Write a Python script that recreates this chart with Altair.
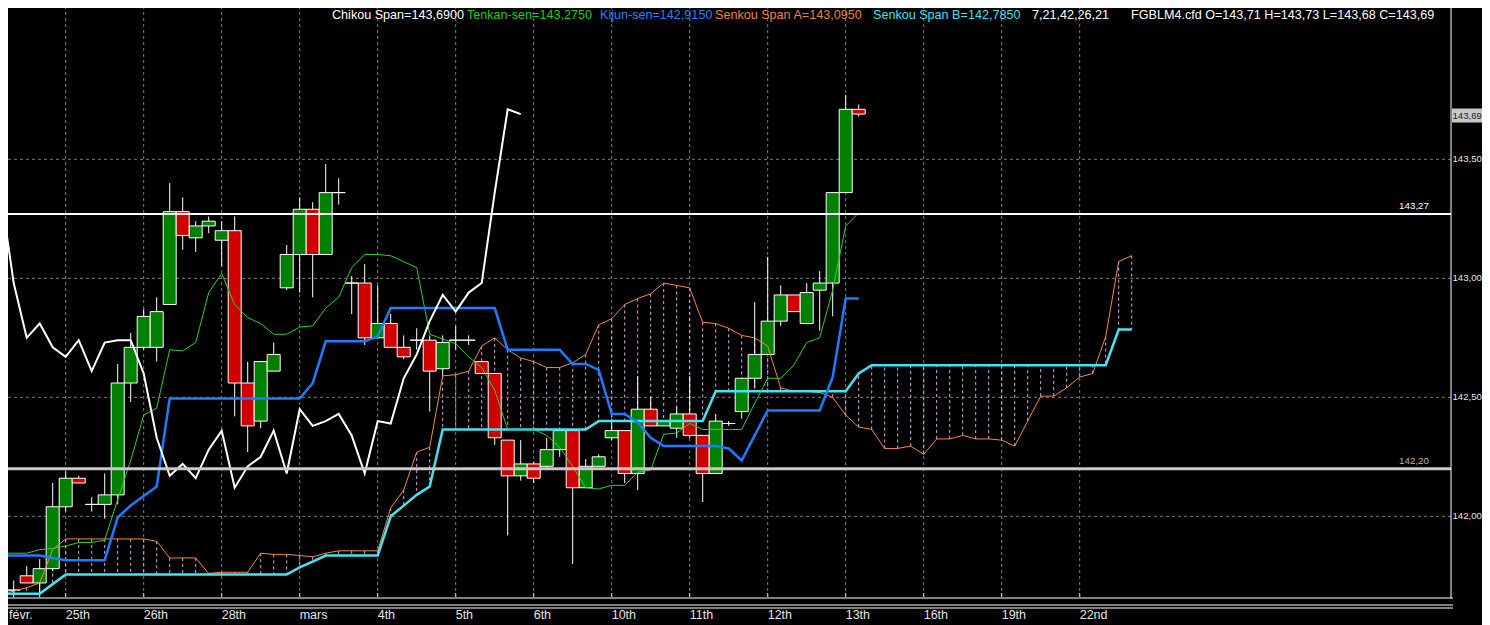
import altair as alt
import pandas as pd

# ---------------- data ----------------
opens = [141.75, 141.69, 141.75, 141.72, 141.78, 142.04, 142.16, 142.05, 142.05, 142.09,
         142.56, 142.71, 142.71, 142.89, 143.28, 143.17, 143.22, 143.16, 143.20, 142.56,
         142.40, 142.61, 142.96, 143.10, 143.29, 143.10, 143.36, 142.98, 142.98, 142.75,
         142.81, 142.71, 142.74, 142.74, 142.62, 142.74, 142.74, 142.65, 142.60, 142.32,
         142.17, 142.22, 142.21, 142.28, 142.36, 142.12, 142.21, 142.33, 142.36, 142.18,
         142.45, 142.38, 142.37, 142.43, 142.34, 142.18, 142.39, 142.44, 142.58, 142.68,
         142.82, 142.93, 142.81, 142.95, 142.98, 143.36, 143.71]
highs = [141.77, 141.73, 141.79, 141.82, 142.14, 142.19, 142.17, 142.08, 142.18, 142.64,
         142.77, 142.87, 142.92, 143.40, 143.34, 143.24, 143.26, 143.24, 143.26, 142.65,
         142.65, 142.73, 143.14, 143.34, 143.32, 143.48, 143.42, 143.01, 143.06, 142.97,
         142.85, 142.76, 142.79, 142.76, 142.76, 142.80, 142.76, 142.65, 142.60, 142.32,
         142.32, 142.23, 142.33, 142.36, 142.36, 142.24, 142.26, 142.41, 142.36, 142.59,
         142.50, 142.40, 142.46, 142.59, 142.34, 142.43, 142.40, 142.58, 142.90, 143.09,
         142.97, 142.93, 142.98, 143.03, 143.36, 143.77, 143.73]
lows = [141.68, 141.66, 141.72, 141.66, 141.77, 142.02, 142.14, 142.02, 141.99, 142.05,
        142.48, 142.70, 142.65, 142.89, 143.12, 143.11, 143.19, 143.05, 142.42, 142.27,
        142.37, 142.61, 142.95, 142.94, 142.92, 143.10, 143.31, 142.85, 142.72, 142.75,
        142.71, 142.66, 142.70, 142.44, 142.59, 142.70, 142.72, 142.60, 142.30, 141.92,
        142.15, 142.14, 142.20, 142.25, 141.80, 142.12, 142.21, 142.32, 142.14, 142.11,
        142.38, 142.38, 142.33, 142.33, 142.06, 142.18, 142.38, 142.41, 142.54, 142.68,
        142.80, 142.86, 142.81, 142.78, 142.84, 143.36, 143.68]
closes = [141.69, 141.69, 141.72, 141.78, 142.04, 142.16, 142.14, 142.05, 142.09, 142.56,
          142.71, 142.84, 142.86, 143.28, 143.18, 143.22, 143.24, 143.20, 142.56, 142.38,
          142.65, 142.68, 143.10, 143.29, 143.10, 143.36, 143.36, 142.98, 142.75, 142.81,
          142.71, 142.67, 142.74, 142.61, 142.73, 142.74, 142.74, 142.60, 142.33, 142.17,
          142.22, 142.16, 142.28, 142.36, 142.12, 142.21, 142.25, 142.36, 142.18, 142.45,
          142.38, 142.40, 142.43, 142.34, 142.18, 142.40, 142.39, 142.58, 142.68, 142.82,
          142.93, 142.86, 142.94, 142.98, 143.36, 143.71, 143.69]

tenkan = [141.845, 141.845, 141.845, 141.86, 141.865, 141.875, 141.89, 141.89, 141.90, 142.07,
          142.235, 142.425, 142.455, 142.70, 142.695, 142.73, 142.94, 143.02, 142.89, 142.835,
          142.81, 142.765, 142.765, 142.795, 142.80, 142.875, 142.92, 143.045, 143.10, 143.10,
          143.095, 143.07, 143.045, 142.765, 142.745, 142.725, 142.67, 142.625, 142.53, 142.365,
          142.365, 142.365, 142.34, 142.29, 142.21, 142.12, 142.115, 142.13, 142.13, 142.185,
          142.195, 142.345, 142.35, 142.39, 142.365, 142.365, 142.365, 142.365, 142.475, 142.58,
          142.58, 142.635, 142.73, 142.75, 142.95, 143.22, 143.275]
kijun = [141.835, 141.835, 141.835, 141.835, 141.825, 141.815, 141.815, 141.815, 141.815, 141.995,
         142.045, 142.085, 142.125, 142.495, 142.495, 142.495, 142.495, 142.495, 142.495, 142.495,
         142.495, 142.495, 142.495, 142.495, 142.56, 142.735, 142.735, 142.735, 142.735, 142.755,
         142.875, 142.875, 142.875, 142.875, 142.875, 142.875, 142.875, 142.875, 142.875, 142.70,
         142.70, 142.70, 142.70, 142.70, 142.64, 142.64, 142.615, 142.43, 142.43, 142.395,
         142.33, 142.295, 142.295, 142.295, 142.295, 142.295, 142.285, 142.235, 142.34, 142.445,
         142.445, 142.445, 142.445, 142.445, 142.585, 142.915, 142.915]
senkou_a = [141.675, 141.685, 141.70, 141.72, 141.86, 141.905, 141.905, 141.905, 141.905, 141.905,
            141.905, 141.905, 141.895, 141.825, 141.825, 141.825, 141.76, 141.765, 141.765, 141.765,
            141.845, 141.84, 141.84, 141.835, 141.83, 141.845, 141.855, 141.855, 141.855, 141.855,
            142.035, 142.11, 142.27, 142.29, 142.59, 142.595, 142.61, 142.715, 142.75, 142.70,
            142.665, 142.65, 142.625, 142.625, 142.645, 142.68, 142.805, 142.83, 142.89, 142.915,
            142.935, 142.98, 142.97, 142.96, 142.815, 142.81, 142.79, 142.76, 142.75, 142.715,
            142.54, 142.525, 142.525, 142.52, 142.50, 142.425, 142.375, 142.365, 142.285, 142.285,
            142.295, 142.26, 142.325, 142.325, 142.34, 142.325, 142.325, 142.32, 142.295, 142.40,
            142.505, 142.505, 142.54, 142.585, 142.60, 142.755, 143.07, 143.095]
senkou_b = [141.675, 141.675, 141.675, 141.675, 141.715, 141.755, 141.755, 141.755, 141.755, 141.755,
            141.755, 141.755, 141.755, 141.755, 141.755, 141.755, 141.755, 141.755, 141.755, 141.755,
            141.755, 141.755, 141.755, 141.785, 141.81, 141.835, 141.835, 141.835, 141.835, 141.835,
            142.00, 142.045, 142.09, 142.125, 142.365, 142.365, 142.365, 142.365, 142.365, 142.365,
            142.365, 142.365, 142.365, 142.365, 142.365, 142.365, 142.40, 142.40, 142.40, 142.40,
            142.40, 142.40, 142.40, 142.40, 142.40, 142.525, 142.525, 142.525, 142.525, 142.525,
            142.525, 142.525, 142.525, 142.525, 142.525, 142.525, 142.60, 142.635, 142.635, 142.635,
            142.635, 142.635, 142.635, 142.635, 142.635, 142.635, 142.635, 142.635, 142.635, 142.635,
            142.635, 142.635, 142.635, 142.635, 142.635, 142.635, 142.785, 142.785]
CHIKOU_SHIFT = 26

ref_levels = [143.27, 142.20]
price_ticks = [142.0, 142.5, 143.0, 143.5]
time_ticks = [-1, 5, 11, 17, 23, 29, 35, 41, 47, 53, 59, 65, 71, 77, 83]
time_labels = ["févr.", "25th", "26th", "28th", "mars", "4th", "5th", "6th", "10th", "11th",
               "12th", "13th", "16th", "19th", "22nd"]
symbol = "FGBLM4.cfd"
params_text = "7,21,42,26,21"

# ---------------- layout / style ----------------
W, H = 1451, 598
BAR_PX, X0_PX = 13.0, 0.7
PX_PER_PT, REF_P, REF_PX = 238.0, 143.5, 159.3
x_dom = [-X0_PX / BAR_PX, (W - X0_PX) / BAR_PX]
y_dom = [REF_P - (H - REF_PX) / PX_PER_PT, REF_P + REF_PX / PX_PER_PT]
xs = alt.Scale(domain=x_dom, nice=False, zero=False)
ys = alt.Scale(domain=y_dom, nice=False, zero=False)

FONT = "Liberation Sans"
GREEN_BODY, RED_BODY = "#008000", "#d00000"
C_TENKAN, C_KIJUN, C_SA, C_SB = "#2bd42b", "#1f7bff", "#f08a46", "#44e4f0"
C_HATCH, C_GRID, C_LABEL = "#e2a6ee", "#7c7c7c", "#e6e6e6"


def fmt(v, d):
    return f"{v:.{d}f}".replace(".", ",")


n = len(closes)
cdf = pd.DataFrame({"i": list(range(n)), "o": opens, "h": highs, "l": lows, "c": closes})
cdf["dir"] = ["up" if c >= o else "down" for o, c in zip(opens, closes)]

# ---- grid + axis labels, drawn from the tick lists through the shared scales ----
xt = pd.DataFrame({"t": time_ticks, "lab": time_labels})
xt_in = xt[xt["t"] >= 0]
xt_out = xt[xt["t"] < 0]
yt = pd.DataFrame({"p": price_ticks, "lab": [fmt(p, 2) for p in price_ticks]})

vgrid = alt.Chart(xt).mark_rule(color=C_GRID, strokeDash=[3, 3], strokeWidth=1, clip=True).encode(
    x=alt.X("t:Q", scale=xs, axis=None))
hgrid = alt.Chart(yt).mark_rule(color=C_GRID, strokeDash=[3, 3], strokeWidth=1, clip=True).encode(
    y=alt.Y("p:Q", scale=ys, axis=None))
xlabels = alt.Chart(xt_in).mark_text(color=C_LABEL, font=FONT, fontSize=12.5, align="left",
                                     baseline="middle").encode(
    x=alt.X("t:Q", scale=xs, axis=None), y=alt.value(615), text="lab:N")
# the label whose tick falls left of the plot is kept readable at the left edge
xlabel_edge = alt.Chart(xt_out).mark_text(color=C_LABEL, font=FONT, fontSize=12.5, align="left",
                                          baseline="middle").encode(
    x=alt.value(9), y=alt.value(615), text="lab:N")
ylabels = alt.Chart(yt).mark_text(color=C_LABEL, font=FONT, fontSize=9.6, align="left",
                                  baseline="middle").encode(
    x=alt.value(1452.5), y=alt.Y("p:Q", scale=ys, axis=None), text="lab:N")

wicks = alt.Chart(cdf).mark_rule(color="white", strokeWidth=1, clip=True).encode(
    x=alt.X("i:Q", scale=xs, axis=None),
    y=alt.Y("l:Q", scale=ys, axis=None),
    y2="h:Q",
)
bodies = alt.Chart(cdf).transform_calculate(
    x0="datum.i - 0.5", x1="datum.i + 0.5"
).mark_rect(stroke="white", strokeWidth=1, clip=True).encode(
    x=alt.X("x0:Q", scale=xs, axis=None), x2="x1:Q",
    y=alt.Y("o:Q", scale=ys, axis=None), y2="c:Q",
    fill=alt.Fill("dir:N", scale=alt.Scale(domain=["up", "down"], range=[GREEN_BODY, RED_BODY]),
                  legend=None),
)

sdf = pd.DataFrame({"i": list(range(len(senkou_a))), "a": senkou_a, "b": senkou_b})
hatch = alt.Chart(sdf).mark_rule(color=C_HATCH, strokeDash=[3, 3], strokeWidth=1, clip=True).encode(
    x=alt.X("i:Q", scale=xs, axis=None), y=alt.Y("a:Q", scale=ys, axis=None), y2="b:Q")


def line_layer(values, color, width, start=0):
    df = pd.DataFrame({"i": list(range(start, start + len(values))), "v": values})
    return alt.Chart(df).mark_line(color=color, strokeWidth=width, clip=True,
                                   strokeJoin="miter").encode(
        x=alt.X("i:Q", scale=xs, axis=None), y=alt.Y("v:Q", scale=ys, axis=None))


span_a = line_layer(senkou_a, C_SA, 1)
span_b = line_layer(senkou_b, C_SB, 2.5)
tenkan_l = line_layer(tenkan, C_TENKAN, 1)
kijun_l = line_layer(kijun, C_KIJUN, 2.5)
chikou_l = line_layer(closes[CHIKOU_SHIFT:], "white", 2)

ref_layers = []
for p, col, sw, tcol in zip(ref_levels, ["white", "#c8c8c8"], [2, 3], ["white", "#b4b4b4"]):
    rdf = pd.DataFrame({"p": [p], "lab": [fmt(p, 2)]})
    ref_layers.append(alt.Chart(rdf).mark_rule(color=col, strokeWidth=sw).encode(
        y=alt.Y("p:Q", scale=ys, axis=None)))
    ref_layers.append(alt.Chart(rdf).mark_text(
        color=tcol, font=FONT, fontSize=9.8, align="right", baseline="bottom", dy=-3).encode(
        x=alt.value(1429), y=alt.Y("p:Q", scale=ys, axis=None), text="lab:N"))

last_df = pd.DataFrame({"p": [closes[-1]], "lab": [fmt(closes[-1], 2)]})
price_box = alt.Chart(last_df).mark_rule(color="#c8c8c8", strokeWidth=14, strokeCap="butt",
                                         yOffset=1.5).encode(
    x=alt.value(1452), x2=alt.value(1490), y=alt.Y("p:Q", scale=ys, axis=None))
price_txt = alt.Chart(last_df).mark_text(color="#202020", font=FONT, fontSize=9.6, align="left",
                                         baseline="middle", yOffset=1.5).encode(
    x=alt.value(1452.5), y=alt.Y("p:Q", scale=ys, axis=None), text="lab:N")

o, h, l, c = opens[-1], highs[-1], lows[-1], closes[-1]
header_items = [
    (f"Chikou Span={fmt(closes[-1], 4)}", "white"),
    (f"Tenkan-sen={fmt(tenkan[-1], 4)}", "#22cc22"),
    (f"Kijun-sen={fmt(kijun[-1], 4)}", "#2a80ff"),
    (f"Senkou Span A={fmt(senkou_a[-1], 4)}", "#f08040"),
    (f"Senkou Span B={fmt(senkou_b[-1], 4)}", "#40e0f0"),
    (params_text, "white"),
    (f"{symbol} O={fmt(o, 2)} H={fmt(h, 2)} L={fmt(l, 2)} C={fmt(c, 2)}", "white"),
]
header_x = [332, 467, 600, 715, 873, 1032, 1131]
header_layers = []
for (txt, col), hx in zip(header_items, header_x):
    header_layers.append(alt.Chart(pd.DataFrame({"t": [txt]})).mark_text(
        color=col, font=FONT, fontSize=12.6, align="left", baseline="middle").encode(
        x=alt.value(hx), y=alt.value(15), text="t:N"))

dummy = pd.DataFrame({"k": [0]})
frame_lines = [
    alt.Chart(dummy).mark_rule(color="white", strokeWidth=1).encode(
        x=alt.value(0), x2=alt.value(1453), y=alt.value(yy))
    for yy in (598, 605, 608)
] + [
    alt.Chart(dummy).mark_rule(color="white", strokeWidth=1).encode(
        x=alt.value(1451), y=alt.value(0), y2=alt.value(598))
]
bottom_ticks = alt.Chart(xt).mark_rule(color="#cfcfcf", strokeWidth=1, clip=True).encode(
    x=alt.X("t:Q", scale=xs, axis=None), y=alt.value(593), y2=alt.value(597))

chart = alt.layer(
    vgrid, hgrid, hatch, wicks, bodies, span_a, span_b, tenkan_l, kijun_l, chikou_l,
    *ref_layers, price_box, price_txt, ylabels, xlabels, xlabel_edge, *header_layers,
    *frame_lines, bottom_ticks,
).properties(
    width=W, height=H,
    autosize=alt.AutoSizeParams(type="none"),
    padding={"left": -8, "top": -8, "right": 31, "bottom": 27},
    background="#000000",
).configure_view(stroke=None)

chart.save("out.html", embed_options={"renderer": "svg", "actions": False})
